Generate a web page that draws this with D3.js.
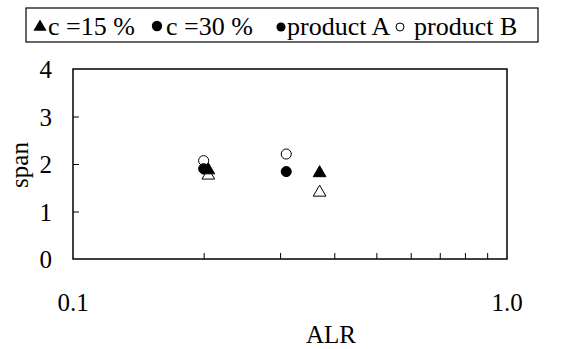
<!DOCTYPE html>
<html><head><meta charset="utf-8">
<script src="https://cdn.jsdelivr.net/npm/d3@7/dist/d3.min.js"></script>
<style>body{margin:0;background:#fff}svg{display:block}text{font-family:"Liberation Serif","Times New Roman",serif;fill:#000}</style>
</head><body><svg id="c" width="563" height="349"></svg>
<script>
// data
const seriesNames = ["c=15% product A","c=15% product B","c=30% product A","c=30% product B"];
const alr15A = [0.205, 0.37];
const span15A = [1.87, 1.81];
const alr15B = [0.205, 0.37];
const span15B = [1.76, 1.40];
const alr30A = [0.20, 0.31];
const span30A = [1.90, 1.84];
const alr30B = [0.20, 0.31];
const span30B = [2.07, 2.21];
const yTicks = [0,1,2,3,4];
const xMinorTicks = [0.2,0.3,0.4,0.5,0.6,0.7,0.8,0.9];
const xTickLabels = ["0.1","1.0"];
const legendLabels = ["c =15 %","c =30 %","product A","product B"];

const svg = d3.select("#c");
const x = d3.scaleLog().domain([0.1,1]).range([73,507]);
const y = d3.scaleLinear().domain([0,4]).range([259,69]);

// frame
svg.append("rect").attr("x",73).attr("y",69).attr("width",434).attr("height",190)
  .attr("fill","none").attr("stroke","#000").attr("stroke-width",1.5);

// y axis ticks inward
const ya = d3.axisLeft(y).tickValues(yTicks).tickSize(-6).tickPadding(21).tickFormat(d3.format("d"));
const gy = svg.append("g").attr("transform","translate(73,0)").call(ya);
gy.attr("font-family",null).attr("font-size",null);
gy.select(".domain").remove();
gy.selectAll("line").attr("stroke","#000").attr("stroke-width",1);
gy.selectAll("text").attr("font-size",25).attr("dy","0.34em");
gy.selectAll(".tick").filter(d=>d===0||d===4).select("line").remove();

// x axis minor ticks inward
const xa = d3.axisBottom(x).tickValues(xMinorTicks).tickSize(-6).tickFormat("");
const gx = svg.append("g").attr("transform","translate(0,259)").call(xa);
gx.select(".domain").remove();
gx.selectAll("line").attr("stroke","#000").attr("stroke-width",1);
// x labels
svg.selectAll(".xl").data([0.1,1]).enter().append("text").attr("class","xl")
  .attr("x",d=>x(d)).attr("y",311).attr("text-anchor","middle").attr("font-size",25)
  .text((d,i)=>xTickLabels[i]);

// axis titles
svg.append("text").attr("x",331).attr("y",343).attr("text-anchor","middle").attr("font-size",25).text("ALR");
svg.append("text").attr("transform","translate(28,165) rotate(-90)").attr("text-anchor","middle").attr("font-size",25).text("span");

// markers
const tri = d3.symbol().type(d3.symbolTriangle).size(70);
const circ = d3.symbol().type(d3.symbolCircle).size(80);
function plot(xs, ys, sym, filled){
  svg.append("g").selectAll("path").data(xs.map((v,i)=>[v,ys[i]])).enter().append("path")
    .attr("d",sym).attr("transform",d=>`translate(${x(d[0])},${y(d[1])})`)
    .attr("fill",filled?"#000":"#fff").attr("stroke","#000").attr("stroke-width",1);
}
plot(alr30B, span30B, circ, false);
plot(alr30A, span30A, circ, true);
plot(alr15B, span15B, tri, false);
plot(alr15A, span15A, tri, true);

// legend
svg.append("rect").attr("x",26).attr("y",8).attr("width",512).attr("height",34)
  .attr("fill","#fff").attr("stroke","#000").attr("stroke-width",1.2);
const ly = 35;
svg.append("path").attr("d",d3.symbol().type(d3.symbolTriangle).size(75)).attr("transform","translate(40,27)").attr("fill","#000");
svg.append("path").attr("d",d3.symbol().type(d3.symbolCircle).size(85)).attr("transform","translate(157,26)").attr("fill","#000");
svg.append("path").attr("d",d3.symbol().type(d3.symbolCircle).size(65)).attr("transform","translate(281,27)").attr("fill","#000");
svg.append("path").attr("d",d3.symbol().type(d3.symbolCircle).size(50)).attr("transform","translate(400,27)").attr("fill","none").attr("stroke","#000").attr("stroke-width",1);
const lx = [48,166,287,414];
svg.selectAll(".lg").data(legendLabels).enter().append("text").attr("class","lg")
  .attr("x",(d,i)=>lx[i]).attr("y",ly).attr("font-size",26).text(d=>d);
</script></body></html>
